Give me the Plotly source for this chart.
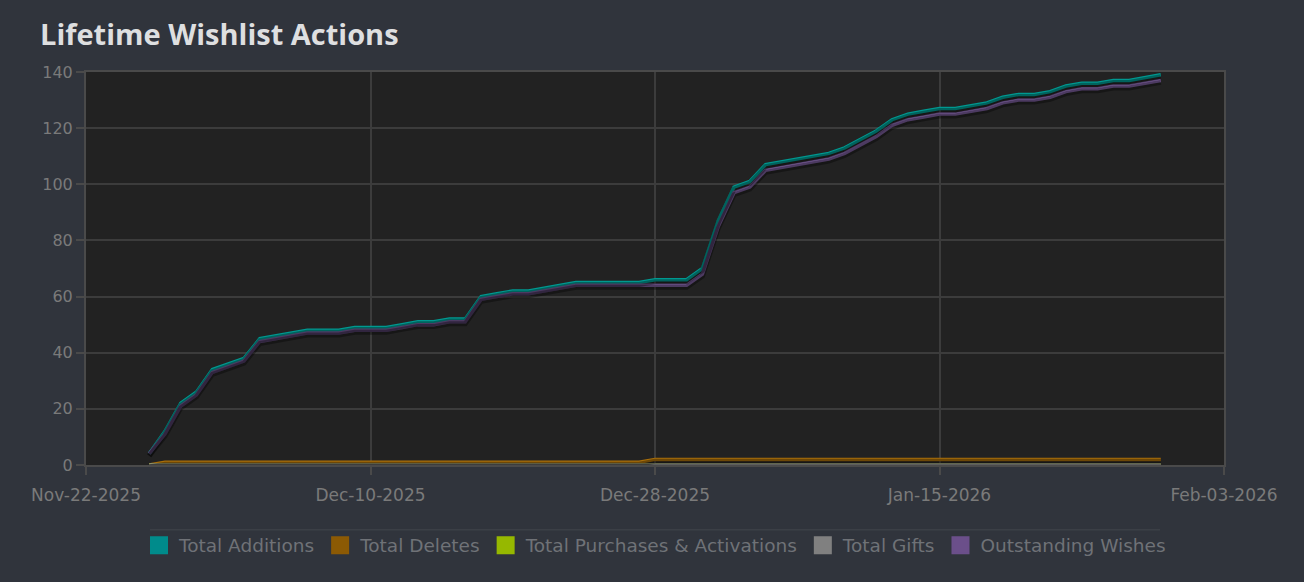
import pandas as pd
import plotly.graph_objects as go

# Daily cumulative wishlist figures, Nov-26-2025 .. Jan-29-2026
dates = pd.date_range("2025-11-26", "2026-01-29", freq="D")

total_additions = [
    4, 12, 22, 26, 34,                       # Nov 26-30
    36, 38, 45, 46, 47, 48, 48, 48, 49, 49,  # Dec 1-10
    49, 50, 51, 51, 52, 52, 60, 61, 62, 62,  # Dec 11-20
    63, 64, 65, 65, 65, 65, 65, 66, 66, 66,  # Dec 21-30
    70,                                      # Dec 31
    87, 99, 101, 107, 108, 109, 110, 111, 113, 116,   # Jan 1-10
    119, 123, 125, 126, 127, 127, 128, 129, 131, 132,  # Jan 11-20
    132, 133, 135, 136, 136, 137, 137, 138, 139,       # Jan 21-29
]
total_deletes = [0] + [1] * 31 + [2] * 33
total_purchases = [0] * 65
total_gifts = [0] * 65
outstanding_wishes = [
    4, 11, 21, 25, 33,
    35, 37, 44, 45, 46, 47, 47, 47, 48, 48,
    48, 49, 50, 50, 51, 51, 59, 60, 61, 61,
    62, 63, 64, 64, 64, 64, 64, 64, 64, 64,
    68,
    85, 97, 99, 105, 106, 107, 108, 109, 111, 114,
    117, 121, 123, 124, 125, 125, 126, 127, 129, 130,
    130, 131, 133, 134, 134, 135, 135, 136, 137,
]

series = [
    ("Total Additions", total_additions, "#009890", "#008b8b"),
    ("Total Deletes", total_deletes, "#a86e0a", "#8c5a04"),
    ("Total Purchases & Activations", total_purchases, "#96b800", "#96b800"),
    ("Total Gifts", total_gifts, "#8a8a8a", "#808080"),
    ("Outstanding Wishes", outstanding_wishes, "#765a96", "#6b4f8a"),
]

tick_dates = ["2025-11-22", "2025-12-10", "2025-12-28", "2026-01-15", "2026-02-02"]
tick_labels = ["Nov-22-2025", "Dec-10-2025", "Dec-28-2025", "Jan-15-2026", "Feb-03-2026"]

fig = go.Figure()

# soft drop shadows, drawn on a slightly shifted overlay axis
for name, vals, line_col, box_col in series:
    fig.add_trace(go.Scatter(
        x=dates, y=vals, mode="lines", yaxis="y2",
        line=dict(color="rgba(0,0,0,0.35)", width=5),
        showlegend=False, hoverinfo="skip",
    ))

for name, vals, line_col, box_col in series:
    fig.add_trace(go.Scatter(
        x=dates, y=vals, mode="lines", name=name,
        line=dict(color=line_col, width=3.5),
        showlegend=False,
    ))

# square legend swatches
for name, vals, line_col, box_col in series:
    fig.add_trace(go.Scatter(
        x=[None], y=[None], mode="markers", name=name,
        marker=dict(symbol="square", size=16, color=box_col,
                    line=dict(color=box_col, width=2)),
    ))

fig.update_layout(
    width=1304, height=582,
    paper_bgcolor="#30343c",
    plot_bgcolor="#222222",
    margin=dict(l=86, r=80, t=72, b=117),
    font=dict(family="DejaVu Sans", color="#7a7a7a", size=16),
    title=dict(
        text="<b>Lifetime Wishlist Actions</b>",
        x=40 / 1304, xref="container", xanchor="left",
        y=1 - 35 / 582, yref="container", yanchor="middle",
        font=dict(family="Open Sans", size=29, color="#dedfe0"),
    ),
    xaxis=dict(
        type="date",
        range=[tick_dates[0], tick_dates[-1]],
        tickvals=tick_dates, ticktext=tick_labels,
        showgrid=True, gridcolor="#3c3c3c", gridwidth=1.5,
        showline=True, linecolor="#4a4a4a", linewidth=2, mirror=True,
        ticks="outside", ticklen=8, tickcolor="#4a4a4a", tickwidth=2,
        tickfont=dict(size=17, color="#7a7a7a"),
        ticklabelstandoff=6,
        zeroline=False,
    ),
    yaxis=dict(
        range=[0, 140], dtick=20,
        showgrid=True, gridcolor="#3c3c3c", gridwidth=1.5,
        showline=True, linecolor="#4a4a4a", linewidth=2, mirror=True,
        ticks="outside", ticklen=8, tickcolor="#4a4a4a", tickwidth=2,
        tickfont=dict(size=16, color="#7a7a7a"),
        zeroline=False,
    ),
    yaxis2=dict(
        overlaying="y", range=[0.7, 140.7], visible=False,
    ),
    legend=dict(
        orientation="h", x=0.5, xanchor="center",
        y=-0.157, yanchor="top",
        font=dict(family="DejaVu Sans", size=18.5, color="#6f7277"),
        itemsizing="trace",
        bgcolor="rgba(0,0,0,0)",
    ),
    shapes=[dict(
        type="line", xref="paper", yref="paper",
        x0=(150 - 86) / 1138, x1=(1160 - 86) / 1138,
        y0=-0.165, y1=-0.165,
        line=dict(color="#42464d", width=1),
    )],
    showlegend=True,
)

# page has a default body margin; drop it so the figure fills the window
fig.write_html(
    "out.html",
    config={"displayModeBar": False},
    post_script="document.body.style.margin='0';document.body.style.background='#30343c';",
)
